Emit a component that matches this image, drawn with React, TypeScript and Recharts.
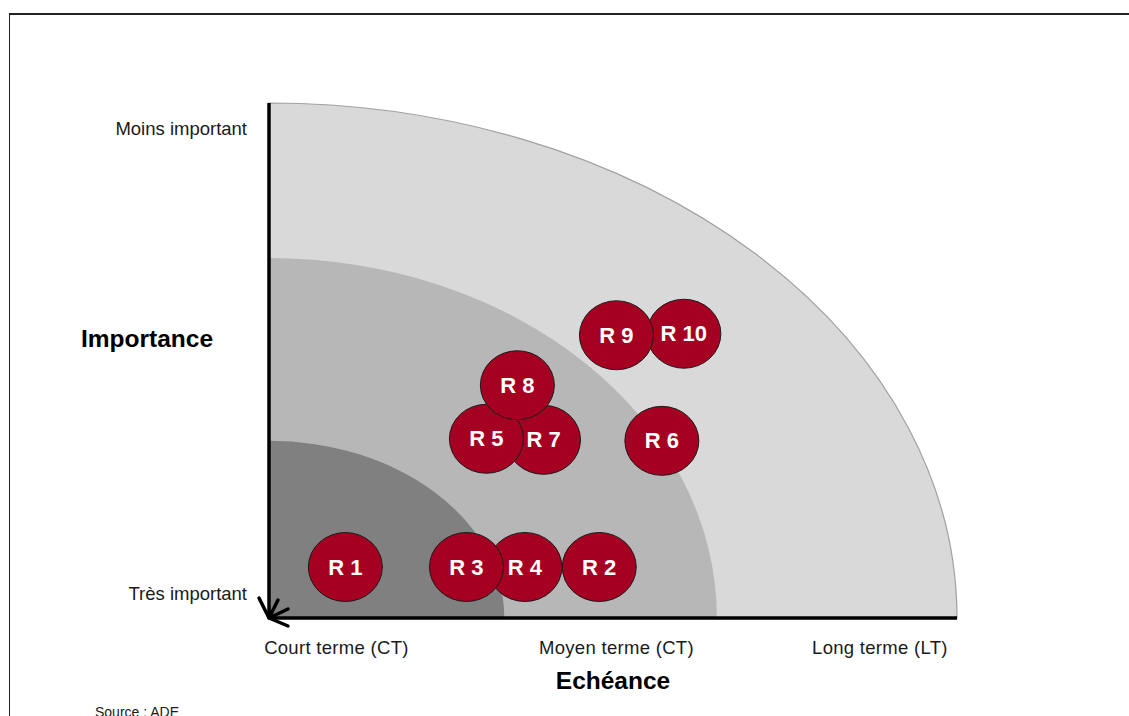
import React from 'react';
import { ScatterChart, Scatter, XAxis, YAxis, ReferenceArea, ReferenceDot } from 'recharts';

// Risks (drawn in this order so overlaps match)
const riskNames = ['R 1', 'R 10', 'R 9', 'R 7', 'R 5', 'R 8', 'R 2', 'R 4', 'R 3', 'R 6'];
const riskTerm = [11.1, 60.3, 50.5, 39.9, 31.6, 36.1, 48.0, 37.2, 28.7, 57.1];
const riskImportance = [9.9, 55.2, 54.9, 34.6, 34.8, 45.2, 9.9, 9.9, 9.9, 34.4];

// Zones (quarter ellipses from origin)
const zoneRadiusX = [100, 65.1, 34.2];
const zoneRadiusY = [100, 69.9, 34.4];
const zoneColors = ['#d9d9d9', '#b7b7b7', '#808080'];

// Axis ticks
const xTickValues = [9.8, 50.5, 88.8];
const xTickLabels = ['Court terme (CT)', 'Moyen terme (CT)', 'Long terme (LT)'];
const yTickValues = [4.7, 95];
const yTickLabels = ['Très important', 'Moins important'];

const xTitle = 'Echéance';
const yTitle = 'Importance';
const sourceText = 'Source : ADE';

const data = riskNames.map((name, i) => ({ name, x: riskTerm[i], y: riskImportance[i] }));

const FONT = '"Liberation Sans", Arial, sans-serif';

const Bubble = (props: any) => {
  const { cx, cy } = props;
  const name = props.payload?.name ?? props.name;
  return (
    <g>
      <ellipse cx={cx} cy={cy} rx={37} ry={34.5} fill="#a50021" stroke="#1a1a1a" strokeWidth={1} />
      <text
        x={cx}
        y={cy}
        textAnchor="middle"
        dominantBaseline="central"
        fill="#ffffff"
        fontFamily={FONT}
        fontWeight="bold"
        fontSize={22}
      >
        {name}
      </text>
    </g>
  );
};

const zoneShape = (color: string, stroke: string) => (props: any) => {
  const { x, y, width, height } = props;
  const d = `M${x},${y + height} L${x},${y} A${width},${height} 0 0 1 ${x + width},${y + height} Z`;
  return <path d={d} fill={color} stroke={stroke} strokeWidth={stroke === 'none' ? 0 : 1.2} />;
};

const AXIS_W = 60;

const XTick = (props: any) => {
  const { x, y, payload } = props;
  const idx = xTickValues.indexOf(payload.value);
  return (
    <text x={x} y={y + 29} textAnchor="middle" dominantBaseline="central" fill="#1a1a1a" fontFamily={FONT} fontSize={18.5} letterSpacing={0.3}>
      {xTickLabels[idx]}
    </text>
  );
};

const YTick = (props: any) => {
  const { x, y, payload } = props;
  const idx = yTickValues.indexOf(payload.value);
  return (
    <text x={x - 22} y={y} textAnchor="end" dominantBaseline="central" fill="#1a1a1a" fontFamily={FONT} fontSize={18.5}>
      {yTickLabels[idx]}
    </text>
  );
};

const Arrow = (props: any) => {
  const { cx, cy } = props;
  return (
    <g stroke="#000" strokeWidth={3.5} fill="none" strokeLinecap="round" strokeLinejoin="round">
      <polyline points={`${cx - 10},${cy - 20} ${cx},${cy} ${cx + 9},${cy - 18}`} />
      <polyline points={`${cx + 19},${cy - 9} ${cx},${cy} ${cx + 19},${cy + 8}`} />
    </g>
  );
};

export default function App() {
  return (
    <div style={{ position: 'fixed', left: 0, top: 0, width: 1129, height: 716, overflow: 'hidden', background: '#fff' }}>
      <div
        style={{
          position: 'absolute',
          left: 9,
          top: 13,
          width: 1300,
          height: 900,
          borderTop: '2px solid #222',
          borderLeft: '1px solid #222',
        }}
      />
      <div style={{ position: 'absolute', left: 0, top: 0 }}>
        <ScatterChart width={1129} height={716} margin={{ top: 103, right: 172, bottom: 98 - AXIS_W, left: 269 - AXIS_W }}>
          <XAxis
            type="number"
            dataKey="x"
            domain={[0, 100]}
            ticks={xTickValues}
            interval={0}
            height={AXIS_W}
            tickSize={0}
            tickMargin={0}
            tickLine={false}
            tick={<XTick />}
            axisLine={{ stroke: '#000', strokeWidth: 3.5 }}
            allowDataOverflow
            label={{
              value: xTitle,
              content: (p: any) => {
                const vb = p.viewBox;
                return (
                  <text x={vb.x + vb.width / 2} y={vb.y + 62} textAnchor="middle" dominantBaseline="central" fontFamily={FONT} fontWeight="bold" fontSize={24.5} fill="#000">
                    {xTitle}
                  </text>
                );
              },
            }}
          />
          <YAxis
            type="number"
            dataKey="y"
            domain={[0, 100]}
            ticks={yTickValues}
            interval={0}
            width={AXIS_W}
            tickSize={0}
            tickMargin={0}
            tickLine={false}
            tick={<YTick />}
            axisLine={{ stroke: '#000', strokeWidth: 3.5 }}
            allowDataOverflow
            label={{
              value: yTitle,
              content: (p: any) => {
                const vb = p.viewBox;
                return (
                  <text x={vb.x + vb.width - 122} y={vb.y + 235} textAnchor="middle" dominantBaseline="central" fontFamily={FONT} fontWeight="bold" fontSize={24.5} fill="#000">
                    {yTitle}
                  </text>
                );
              },
            }}
          />
          {zoneRadiusX.map((rx, i) => (
            <ReferenceArea
              key={i}
              x1={0}
              x2={rx}
              y1={0}
              y2={zoneRadiusY[i]}
              shape={zoneShape(zoneColors[i], i === 0 ? '#a0a0a0' : 'none')}
            />
          ))}
          <Scatter data={data} shape={<Bubble />} isAnimationActive={false} />
          <ReferenceDot x={0} y={0} shape={<Arrow />} />
        </ScatterChart>
      </div>
      <div style={{ position: 'absolute', left: 95, top: 704, fontFamily: FONT, fontSize: 14, color: '#1a1a1a' }}>{sourceText}</div>
    </div>
  );
}
